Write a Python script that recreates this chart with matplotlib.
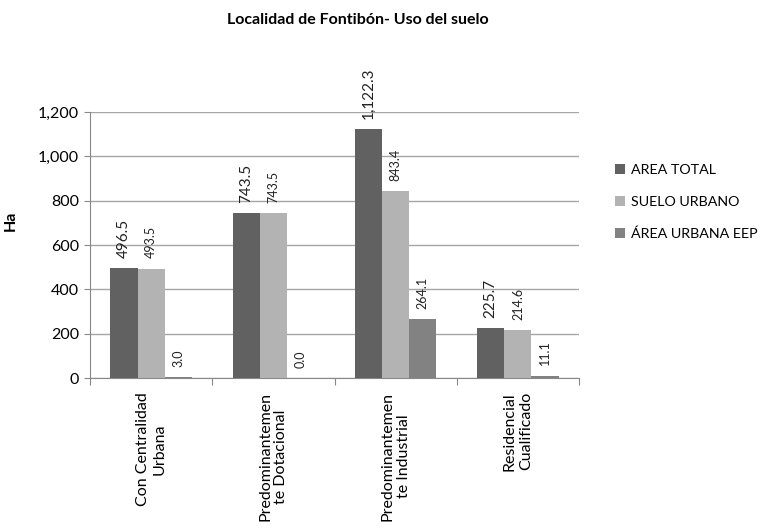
import matplotlib
matplotlib.use("Agg")
import matplotlib.pyplot as plt
import numpy as np

categories = ["Con Centralidad\nUrbana", "Predominantemen\nte Dotacional",
              "Predominantemen\nte Industrial", "Residencial\nCualificado"]
series_names = ["AREA TOTAL", "SUELO URBANO", "ÁREA URBANA EEP"]
area_total = [496.5, 743.5, 1122.3, 225.7]
suelo_urbano = [493.5, 743.5, 843.4, 214.6]
area_urbana_eep = [3.0, 0.0, 264.1, 11.1]
y_ticks = [0, 200, 400, 600, 800, 1000, 1200]

colors = ["#616161", "#b3b3b3", "#828282"]
label_sizes = [11, 9, 9]
plt.rcParams['font.family'] = ['Lato', 'DejaVu Sans']

fig = plt.figure(figsize=(7.69, 5.29), dpi=100)
ax = fig.add_axes([0.117, 0.2854, 0.636, 0.5029])

x = np.arange(len(categories))
w = 0.222
series = [area_total, suelo_urbano, area_urbana_eep]
for i, (vals, name, c) in enumerate(zip(series, series_names, colors)):
    pos = x + (i - 1) * w
    ax.bar(pos, vals, width=w, color=c, label=name, zorder=3)
    for p, v in zip(pos, vals):
        ax.annotate(f"{v:,.1f}", (p, v), xytext=(0, 7.5), textcoords="offset points",
                    rotation=90, ha="center", va="bottom", fontsize=label_sizes[i],
                    color="#222222", annotation_clip=False)

ax.set_xlim(-0.5, len(categories) - 0.5)
ax.set_ylim(0, 1200)
ax.set_yticks(y_ticks)
ax.set_yticklabels([f"{t:,}" for t in y_ticks], fontsize=11.5)
ax.yaxis.grid(True, color="#a6a6a6", linewidth=1, zorder=0)
ax.set_axisbelow(True)

ax.set_xticks(np.arange(len(categories) + 1) - 0.5)
ax.set_xticklabels([])
ax.set_xticks(x, minor=True)
ax.set_xticklabels(categories, minor=True, rotation=90, fontsize=11.5,
                   ha="center", va="top", multialignment="center")
ax.tick_params(axis="x", which="minor", length=0, pad=10)
ax.tick_params(axis="x", which="major", length=5, color="#888888")
ax.tick_params(axis="y", length=4, color="#888888", pad=4)

for s in ["top", "right"]:
    ax.spines[s].set_visible(False)
for s in ["left", "bottom"]:
    ax.spines[s].set_color("#888888")

ax.set_ylabel("Ha", fontsize=11.5, fontweight="bold")
ax.yaxis.set_label_coords(-0.147, 0.59)

fig.text(0.465, 0.962, "Localidad de Fontibón- Uso del suelo", ha="center",
         va="center", fontsize=11.5, fontweight="bold")

leg = fig.legend(loc="upper left", bbox_to_anchor=(0.783, 0.714), frameon=False,
                 fontsize=10.3, handlelength=0.7, handleheight=0.7,
                 handletextpad=0.45, labelspacing=1.38)

fig.savefig("out.png", dpi=100)
